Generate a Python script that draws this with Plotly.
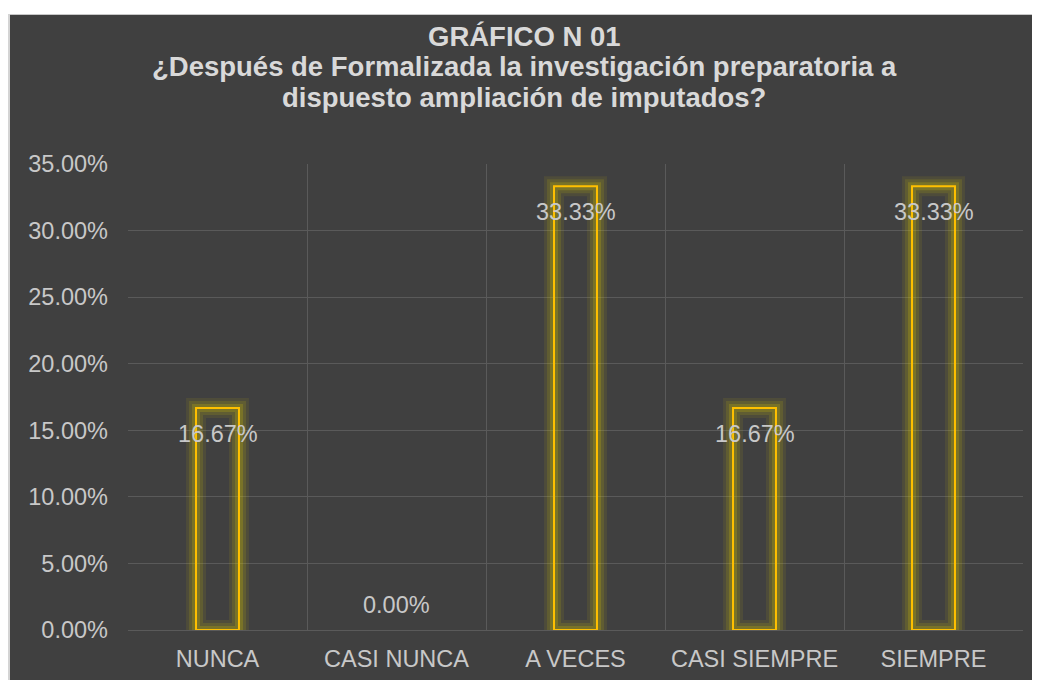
import plotly.graph_objects as go

categories = ["NUNCA", "CASI NUNCA", "A VECES", "CASI SIEMPRE", "SIEMPRE"]
values = [0.1667, 0.0, 0.3333, 0.1667, 0.3333]
labels = ["16.67%", "0.00%", "33.33%", "16.67%", "33.33%"]

title_lines = [
    "GRÁFICO N 01",
    "¿Después de Formalizada la investigación preparatoria a",
    "dispuesto ampliación de imputados?",
]

BG = "#404040"
GRID = "#5a5a5a"
TXT = "#c8c8c8"
GOLD = "#FFC000"
FONT = "Liberation Sans, Arial, sans-serif"

# page body has an 8px margin, so the figure is a bit smaller than the window
W, H = 1032, 672
L, R, T, B = 120, 17, 156, 50
pw, ph = W - L - R, H - T - B


def py(p):
    # figure pixel (from top) -> paper y
    return (H - B - p) / ph


def px(p):
    return (p - L) / pw


fig = go.Figure()

# soft glow around the bars (no outline for empty bars)
for width, alpha in [(20, 0.09), (14, 0.13), (8, 0.2)]:
    fig.add_trace(go.Bar(
        x=categories, y=values, width=0.24,
        marker=dict(color="rgba(0,0,0,0)",
                    line=dict(color=f"rgba(225,205,0,{alpha})",
                              width=[width if v > 0 else 0 for v in values])),
        hoverinfo="skip", showlegend=False,
    ))

fig.add_trace(go.Bar(
    x=categories, y=values, width=0.24,
    marker=dict(color="rgba(0,0,0,0)",
                line=dict(color=GOLD, width=[2 if v > 0 else 0 for v in values])),
    showlegend=False,
))

for c, v, t in zip(categories, values, labels):
    fig.add_annotation(
        x=c, y=v, text=t, showarrow=False,
        yshift=-26 if v > 0 else 25,
        font=dict(family=FONT, size=23.5, color=TXT),
    )

# title, one annotation per line
for i, line in enumerate(title_lines):
    fig.add_annotation(
        xref="paper", yref="paper", x=px(W / 2), y=py(28 + i * 30.5),
        xanchor="center", yanchor="middle", showarrow=False,
        text=f"<b>{line}</b>",
        font=dict(family=FONT, size=27.5, color="#d9d9d9"),
    )

# white page strip above the dark chart panel, light border on top and left
fig.add_shape(type="rect", xref="paper", yref="paper", layer="below",
              x0=px(0), x1=px(W), y0=py(6), y1=py(0),
              fillcolor="white", line=dict(width=0))
fig.add_shape(type="line", xref="paper", yref="paper",
              x0=px(0), x1=px(W), y0=py(6.5), y1=py(6.5),
              line=dict(color="#c8c8c8", width=1))
fig.add_shape(type="line", xref="paper", yref="paper",
              x0=px(1), x1=px(1), y0=py(6), y1=py(H),
              line=dict(color="#d4d4d4", width=2))

fig.update_layout(
    width=W, height=H,
    margin=dict(l=L, r=R, t=T, b=B),
    paper_bgcolor=BG,
    plot_bgcolor=BG,
    barmode="overlay",
    xaxis=dict(
        type="category", tickson="boundaries", automargin=False,
        showgrid=True, gridcolor=GRID, gridwidth=1,
        ticks="", showline=False, zeroline=False,
        ticklabelstandoff=12,
        tickfont=dict(family=FONT, size=23.5, color=TXT),
    ),
    yaxis=dict(
        range=[0, 0.35], dtick=0.05, tickformat=".2%", automargin=False,
        showgrid=True, gridcolor=GRID, gridwidth=1,
        zeroline=True, zerolinecolor=GRID, zerolinewidth=1,
        ticks="", showline=False,
        ticklabelstandoff=19,
        tickfont=dict(family=FONT, size=23.5, color=TXT),
    ),
)

fig.write_html("out.html")
